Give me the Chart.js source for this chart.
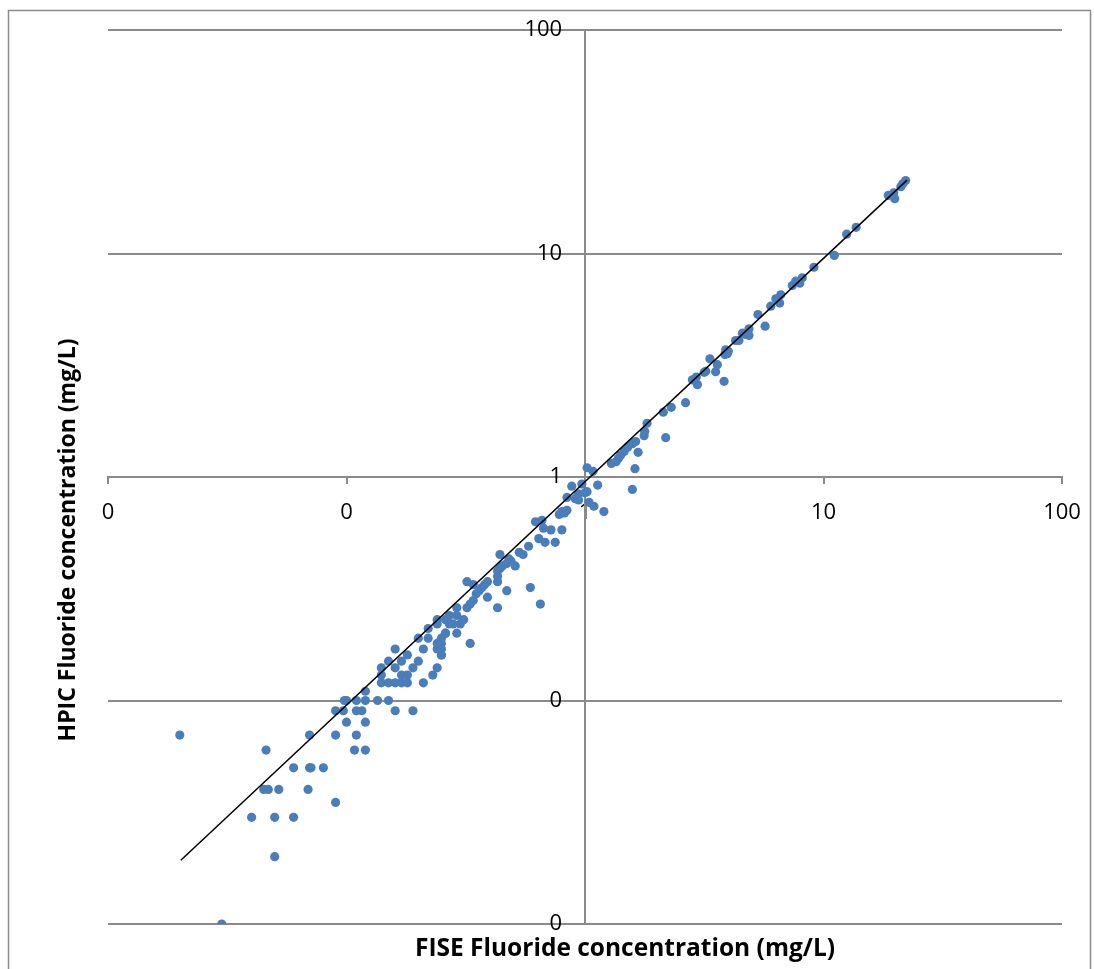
<!DOCTYPE html>
<html>
<head>
<meta charset="utf-8">
<title>HPIC vs FISE fluoride</title>
<script src="https://cdn.jsdelivr.net/npm/chart.js@4.4.1/dist/chart.umd.min.js"></script>
<style>
    body { margin: 0; background: #fff; }
    canvas { display: block; }
</style>
</head>
<body>
<canvas id="fluorideChart" width="1094" height="969"></canvas>
<script>
// FISE (x) and HPIC (y) fluoride concentrations, mg/L
const fiseValues = [
    0.03, 0.05, 0.04, 0.05, 0.06, 0.09, 0.045, 0.047, 0.052, 0.069,
    0.06, 0.07, 0.071, 0.08, 0.046, 0.108, 0.12, 0.02, 0.07, 0.09,
    0.11, 0.10, 0.12, 0.09, 0.097, 0.11, 0.116, 0.16, 0.19, 0.098,
    0.10, 0.11, 0.12, 0.135, 0.15, 0.12, 0.14, 0.15, 0.16, 0.17,
    0.18, 0.21, 0.14, 0.17, 0.18, 0.23, 0.14, 0.16, 0.19, 0.24,
    0.15, 0.17, 0.20, 0.18, 0.25, 0.25, 0.16, 0.21, 0.24, 0.25,
    0.25, 0.24, 0.33, 0.20, 0.22, 0.25, 0.26, 0.26, 0.29, 0.22,
    0.30, 0.27, 0.28, 0.24, 0.31, 0.26, 0.24, 0.29, 0.27, 0.29,
    0.32, 0.43, 0.33, 0.65, 0.34, 0.39, 0.35, 0.36, 0.47, 0.37,
    0.59, 0.34, 0.38, 0.32, 0.39, 0.43, 0.43, 0.43, 0.44, 0.45,
    0.51, 0.47, 0.49, 0.48, 0.44, 0.55, 0.53,
    0.58, 0.68, 0.75, 0.64, 0.72, 0.80, 0.67, 0.62, 0.66, 0.80,
    0.78, 0.82, 0.84, 1.20, 1.09, 1.04, 0.94, 0.91, 0.84, 0.94,
    1.00, 1.02, 1.58, 0.88, 1.13, 0.97, 1.08, 1.62, 1.02,
    1.29, 1.35, 1.38, 1.41, 1.46, 1.67, 1.51, 1.58, 1.63,
    1.77, 2.18, 1.78, 1.82, 2.13, 2.30, 2.64, 2.96, 3.83, 2.82,
    2.93, 3.16, 3.21, 3.53, 3.59, 3.34, 3.86, 3.95, 3.99, 3.89,
    4.28, 4.42, 4.87, 4.72, 4.57, 4.87, 5.69, 5.31, 6.01, 6.55,
    6.31, 6.62, 7.40, 7.95, 7.64, 8.15, 9.12, 11.1, 12.5, 13.7,
    19.9, 18.7, 19.7, 21.1, 21.5, 22.1
];
const hpicValues = [
    0.01, 0.02, 0.03, 0.03, 0.03, 0.035, 0.04, 0.04, 0.04, 0.04,
    0.05, 0.05, 0.05, 0.05, 0.06, 0.06, 0.06, 0.07, 0.07, 0.07,
    0.07, 0.08, 0.08, 0.09, 0.09, 0.09, 0.09, 0.09, 0.09, 0.10,
    0.10, 0.10, 0.10, 0.10, 0.10, 0.11, 0.12, 0.12, 0.12, 0.12,
    0.12, 0.12, 0.13, 0.13, 0.13, 0.13, 0.14, 0.14, 0.14, 0.14,
    0.15, 0.15, 0.15, 0.16, 0.16, 0.16, 0.17, 0.17, 0.17, 0.17,
    0.18, 0.18, 0.18, 0.19, 0.19, 0.19, 0.20, 0.20, 0.20, 0.21,
    0.22, 0.22, 0.22, 0.22, 0.23, 0.23, 0.23, 0.24, 0.24, 0.26,
    0.26, 0.26, 0.27, 0.27, 0.28, 0.29, 0.30, 0.31, 0.31, 0.32,
    0.32, 0.33, 0.33, 0.34, 0.34, 0.34, 0.36, 0.38, 0.39, 0.40,
    0.40, 0.41, 0.42, 0.43, 0.45, 0.45, 0.46,
    0.49, 0.51, 0.51, 0.53, 0.58, 0.58, 0.59, 0.63, 0.64, 0.70,
    0.68, 0.69, 0.71, 0.70, 0.74, 0.77, 0.79, 0.80, 0.81, 0.84,
    0.85, 0.86, 0.88, 0.91, 0.92, 0.93, 1.06, 1.09, 1.10,
    1.15, 1.17, 1.21, 1.25, 1.30, 1.29, 1.36, 1.41, 1.44,
    1.53, 1.50, 1.60, 1.74, 1.95, 2.05, 2.15, 2.59, 2.68, 2.72,
    2.80, 2.94, 2.97, 2.96, 3.18, 3.38, 3.53, 3.56, 3.65, 3.71,
    4.08, 4.08, 4.30, 4.34, 4.40, 4.60, 4.73, 5.33, 5.81, 6.00,
    6.27, 6.53, 7.19, 7.36, 7.52, 7.79, 8.68, 9.8, 12.2, 13.1,
    17.6, 18.2, 18.7, 19.9, 20.5, 21.2
];

// Trend line end points
const trendX = [0.0202, 22.4];
const trendY = [0.0193, 21.3];

// Decade ticks, labelled the way the original sheet rounded them
const tickValues = [0.01, 0.1, 1, 10, 100];
const xTickLabels = ['0', '0', '1', '10', '100'];
const yTickLabels = ['0', '0', '1', '10', '100'];

const xTitle = 'FISE Fluoride concentration (mg/L)';
const yTitle = 'HPIC Fluoride concentration (mg/L)';

const fontFamily = "'Open Sans', 'Liberation Sans', sans-serif";
const gridColor = '#8a8a8a';

const points = fiseValues.map((x, i) => ({ x: x, y: hpicValues[i] }));
const trendPoints = trendX.map((x, i) => ({ x: x, y: trendY[i] }));

// Outer frame plus the two axis titles (axes sit in the middle, so titles are placed by hand)
const frameAndTitles = {
    id: 'frameAndTitles',
    beforeDraw(chart) {
        const ctx = chart.ctx;
        ctx.save();
        ctx.strokeStyle = '#8c8c8c';
        ctx.lineWidth = 1.5;
        ctx.strokeRect(8.5, 10.5, 1082, 980);
        ctx.restore();
    },
    afterDraw(chart) {
        const ctx = chart.ctx;
        ctx.save();
        ctx.fillStyle = '#000';
        ctx.textAlign = 'center';
        ctx.textBaseline = 'middle';
        ctx.font = 'bold 24.5px ' + fontFamily;
        ctx.fillText(xTitle, 625, 949);
        ctx.font = 'bold 23px ' + fontFamily;
        ctx.translate(68, 540);
        ctx.rotate(-Math.PI / 2);
        ctx.fillText(yTitle, 0, 0);
        ctx.restore();
    }
};

const ctx = document.getElementById('fluorideChart').getContext('2d');

new Chart(ctx, {
    type: 'scatter',
    data: {
        datasets: [{
            label: 'Samples',
            data: points,
            backgroundColor: '#4a7ebb',
            borderWidth: 0,
            pointRadius: 4.6,
            order: 1
        }, {
            label: 'Trend',
            type: 'line',
            data: trendPoints,
            borderColor: '#000',
            borderWidth: 1.5,
            pointRadius: 0,
            fill: false,
            order: 0
        }]
    },
    options: {
        responsive: false,
        animation: false,
        layout: {
            padding: { left: 108, right: 32, top: 30, bottom: 45 }
        },
        plugins: {
            legend: { display: false },
            tooltip: { enabled: false }
        },
        scales: {
            x: {
                type: 'logarithmic',
                min: 0.01,
                max: 100,
                position: { y: 1 },
                afterBuildTicks: scale => {
                    scale.ticks = tickValues.map(v => ({ value: v }));
                },
                ticks: {
                    callback: (value, index) => xTickLabels[index],
                    color: '#000',
                    // tall line height pushes labels down without widening the side padding
                    font: { family: fontFamily, size: 22, lineHeight: 1.7 },
                    padding: 11,
                    maxRotation: 0,
                    autoSkip: false
                },
                grid: {
                    drawOnChartArea: false,
                    tickLength: 6,
                    color: gridColor,
                    lineWidth: 2
                },
                border: { display: true, color: gridColor, width: 2 }
            },
            y: {
                type: 'logarithmic',
                min: 0.01,
                max: 100,
                position: { x: 1 },
                afterBuildTicks: scale => {
                    scale.ticks = tickValues.map(v => ({ value: v }));
                },
                ticks: {
                    // a centred axis ignores ticks.padding, so trailing spaces keep labels off the line
                    callback: (value, index) => yTickLabels[index] + '    ',
                    color: '#000',
                    font: { family: fontFamily, size: 22 },
                    autoSkip: false
                },
                grid: {
                    tickLength: 8,
                    color: gridColor,
                    lineWidth: 2
                },
                border: { display: true, color: gridColor, width: 2 }
            }
        }
    },
    plugins: [frameAndTitles]
});
</script>
</body>
</html>
